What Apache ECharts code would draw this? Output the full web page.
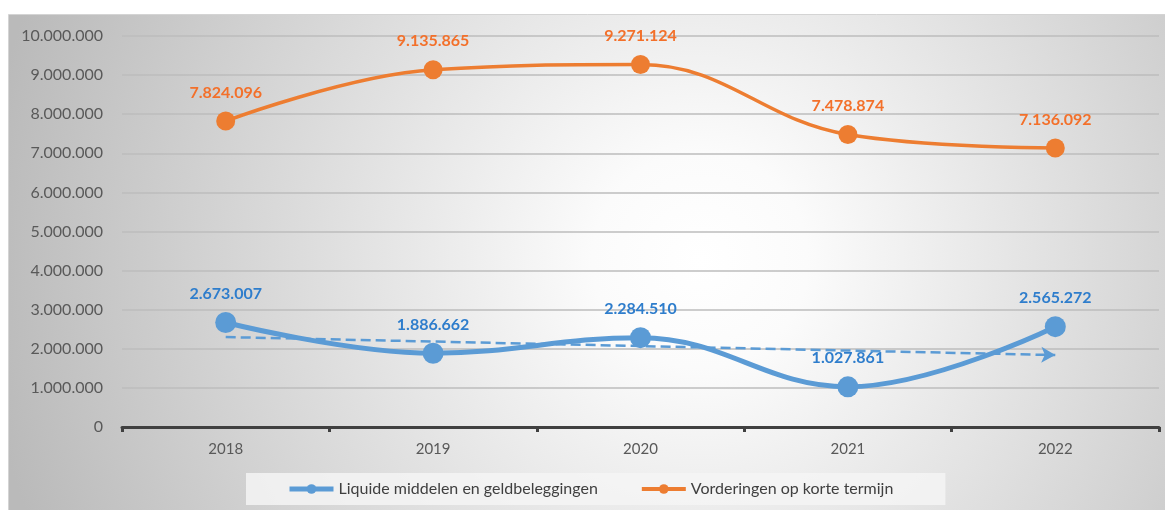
<!DOCTYPE html>
<html><head><meta charset="utf-8">
<script src="https://cdn.jsdelivr.net/npm/echarts@6/dist/echarts.min.js"></script>
<style>html,body{margin:0;padding:0;background:#fff}#c{width:1165px;height:510px}</style>
</head><body><div id="c"></div>
<script>
const categories = ['2018', '2019', '2020', '2021', '2022'];
const liquide = [2673007, 1886662, 2284510, 1027861, 2565272];
const vorderingen = [7824096, 9135865, 9271124, 7478874, 7136092];
const trendLiquide = [2300000, 1840000]; // start at 2018, end at 2022
const seriesNames = ['Liquide middelen en geldbeleggingen', 'Vorderingen op korte termijn'];

function fmt(v){ return String(Math.round(v)).replace(/\B(?=(\d{3})+(?!\d))/g, '.'); }

const chart = echarts.init(document.getElementById('c'), null, {renderer:'canvas'});
const FONT = 'Lato';
chart.setOption({
  animation:false,
  textStyle:{fontFamily:FONT},
  graphic:[{
    type:'rect', z:-10, silent:true,
    shape:{x:8.5, y:14.5, width:1170, height:500},
    style:{
      fill:new echarts.graphic.RadialGradient(700, 260, 720, [
        {offset:0, color:'#ffffff'},
        {offset:0.15, color:'#fbfbfb'},
        {offset:1, color:'#bababa'}
      ], true),
      stroke:'#d4d4d4', lineWidth:1
    }
  }],
  grid:{left:122, right:6, top:36, bottom:83, containLabel:false},
  legend:{
    bottom:5, left:246,
    backgroundColor:'rgba(245,245,245,0.85)',
    padding:[8, 52, 8, 41],
    itemGap:42, itemWidth:44, itemHeight:12,
    textStyle:{fontFamily:FONT, fontSize:16, color:'#404040'},
    data:[
      {name:seriesNames[0], lineStyle:{width:5}},
      {name:seriesNames[1], lineStyle:{width:4}}
    ]
  },
  xAxis:{
    type:'category', data:categories, boundaryGap:true,
    axisLine:{lineStyle:{color:'#404040', width:3}},
    axisTick:{show:true, interval:0, length:5, lineStyle:{color:'#404040', width:3}},
    axisLabel:{color:'#595959', fontSize:15, margin:15, fontFamily:FONT},
    splitLine:{show:false}
  },
  yAxis:{
    type:'value', min:0, max:10000000, interval:1000000,
    axisLine:{show:false}, axisTick:{show:false},
    axisLabel:{color:'#595959', fontSize:16, margin:19, fontFamily:FONT, formatter:fmt},
    splitLine:{lineStyle:{color:'#bcbcbc', width:1.5}}
  },
  series:[
    {
      name:seriesNames[0], type:'line', data:liquide, smooth:0.4,
      symbol:'circle', symbolSize:21,
      itemStyle:{color:'#5B9BD5'},
      lineStyle:{color:'#5B9BD5', width:5},
      label:{show:true, position:'top', distance:10, color:'#2E7DCC', fontWeight:'bold', fontSize:16, fontFamily:FONT, formatter:p=>fmt(p.value)},
      markLine:{
        silent:true, symbol:['none','arrow'], symbolSize:[12,14],
        label:{show:false},
        lineStyle:{color:'#5B9BD5', type:[10,5], width:2.5},
        emphasis:{disabled:true},
        data:[[{coord:[categories[0], trendLiquide[0]]},{coord:[categories[4], trendLiquide[1]]}]]
      },
      z:3
    },
    {
      name:seriesNames[1], type:'line', data:vorderingen, smooth:0.4,
      symbol:'circle', symbolSize:19,
      itemStyle:{color:'#ED7D31'},
      lineStyle:{color:'#ED7D31', width:3.5},
      label:{show:true, position:'top', distance:11, color:'#F3702A', fontWeight:'bold', fontSize:16, fontFamily:FONT, formatter:p=>fmt(p.value)},
      z:3
    }
  ]
});
</script></body></html>
